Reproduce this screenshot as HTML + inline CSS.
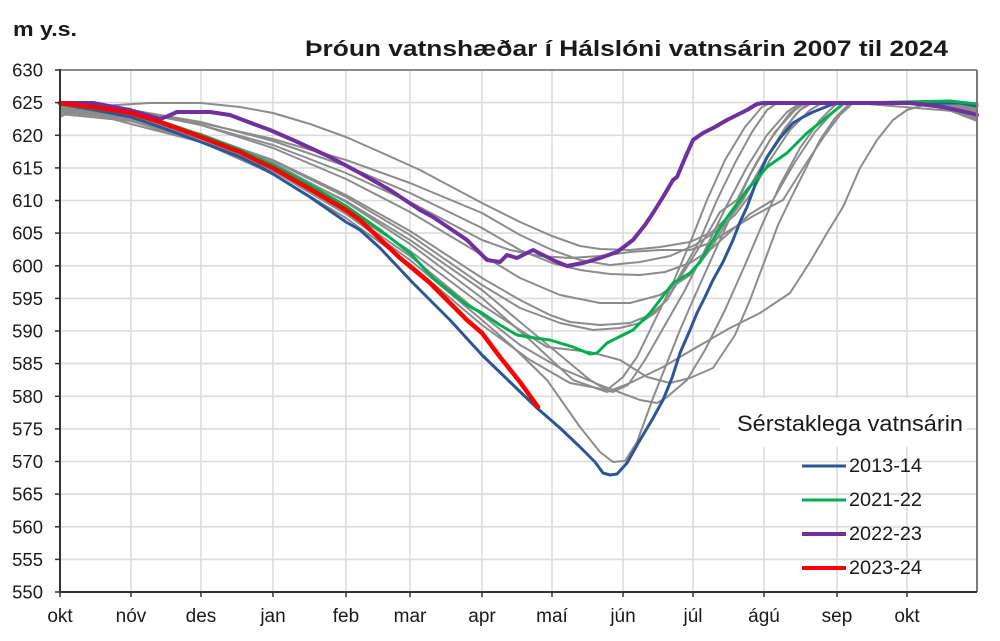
<!DOCTYPE html>
<html><head><meta charset="utf-8"><style>
html,body{margin:0;padding:0;background:#fff;}
svg{display:block;}
text{font-family:"Liberation Sans",Arial,sans-serif;fill:#1a1a1a;}
</style></head><body>
<svg width="1000" height="641" viewBox="0 0 1000 641" xmlns="http://www.w3.org/2000/svg">
<rect x="0" y="0" width="1000" height="641" fill="#fff"/>
<text x="13" y="36" font-size="20" font-weight="bold" textLength="64" lengthAdjust="spacingAndGlyphs">m y.s.</text>
<text x="305" y="56" font-size="22" font-weight="bold" textLength="643" lengthAdjust="spacingAndGlyphs">Þróun vatnshæðar í Hálslóni vatnsárin 2007 til 2024</text>
<g stroke="#dcdcdc" stroke-width="1.6" fill="none">
<line x1="60" y1="559.4" x2="977" y2="559.4"/><line x1="60" y1="526.8" x2="977" y2="526.8"/><line x1="60" y1="494.1" x2="977" y2="494.1"/><line x1="60" y1="461.5" x2="977" y2="461.5"/><line x1="60" y1="428.9" x2="977" y2="428.9"/><line x1="60" y1="396.3" x2="977" y2="396.3"/><line x1="60" y1="363.6" x2="977" y2="363.6"/><line x1="60" y1="331" x2="977" y2="331"/><line x1="60" y1="298.4" x2="977" y2="298.4"/><line x1="60" y1="265.8" x2="977" y2="265.8"/><line x1="60" y1="233.1" x2="977" y2="233.1"/><line x1="60" y1="200.5" x2="977" y2="200.5"/><line x1="60" y1="167.9" x2="977" y2="167.9"/><line x1="60" y1="135.3" x2="977" y2="135.3"/><line x1="60" y1="102.6" x2="977" y2="102.6"/>
<line x1="131" y1="70" x2="131" y2="592"/><line x1="201" y1="70" x2="201" y2="592"/><line x1="273" y1="70" x2="273" y2="592"/><line x1="346" y1="70" x2="346" y2="592"/><line x1="410" y1="70" x2="410" y2="592"/><line x1="482" y1="70" x2="482" y2="592"/><line x1="552" y1="70" x2="552" y2="592"/><line x1="623" y1="70" x2="623" y2="592"/><line x1="693" y1="70" x2="693" y2="592"/><line x1="764" y1="70" x2="764" y2="592"/><line x1="837" y1="70" x2="837" y2="592"/><line x1="907" y1="70" x2="907" y2="592"/>
</g>
<rect x="720" y="398" width="247" height="49" fill="#fff"/>
<g fill="none" stroke="#8c8c8c" stroke-width="2" stroke-linejoin="round" stroke-linecap="round">
<polyline points="60,110 100,106 150,103 201,103 240,107 273,113 310,124 346,137 380,152 420,170 450,186 482,203 520,222 552,236 580,246 600,249 630,250 660,247 690,242 712,232 730,215 745,195 765,160 785,128 800,110 812,103 900,103 940,107 977,112"/>
<polyline points="60,108 131,112 201,123 273,139 346,160 410,183 482,213 520,235 552,250 580,260 610,265 640,262 670,256 695,245 715,232 735,215 750,195 770,160 790,130 810,110 822,103 935,103 977,110"/>
<polyline points="60,105 131,110 201,122 273,141 346,166 410,193 482,228 520,250 552,263 580,270 610,274 640,275 665,272 690,263 710,250 730,232 750,214 773,200 795,162 815,132 835,110 845,103 920,103 977,117"/>
<polyline points="60,106 131,111 201,125 273,145 346,173 410,202 482,240 510,250 540,256 570,258 600,256 630,252 660,250 690,250 710,243 730,230 755,215 783,200 805,165 825,135 840,115 853,103 940,103 977,114"/>
<polyline points="60,104 131,110 201,125 273,148 346,179 410,212 482,255 520,278 560,295 600,303 630,303 660,295 690,275 710,250 727,222 743,200 760,170 778,140 795,115 808,103 930,103 977,112"/>
<polyline points="60,112 131,119 201,135 273,160 346,195 410,231 482,278 520,300 550,315 570,322 600,325 630,323 650,315 667,300 680,275 700,240 717,200 735,163 752,132 767,110 777,103 930,103 977,118"/>
<polyline points="60,110 131,117 201,134 273,161 346,197 410,235 482,285 520,308 560,323 593,330 620,328 640,323 655,313 668,298 685,270 705,238 720,212 737,200 755,165 775,132 795,110 805,103 930,103 977,120"/>
<polyline points="60,114 131,121 201,138 273,165 346,201 410,240 482,290 520,322 560,355 590,380 607,390 623,377 637,357 655,320 672,285 690,243 707,200 725,160 745,127 762,107 770,103 930,103 977,116"/>
<polyline points="60,108 131,116 201,134 273,163 346,202 410,244 482,298 530,340 573,380 607,392 630,383 663,367 697,347 730,328 760,313 790,293 810,262 827,233 843,207 860,168 877,140 893,120 907,110 927,104 950,104 977,108"/>
<polyline points="60,116 75,109 131,124 201,142 273,171 346,210 410,251 482,305 520,330 547,347 590,352 620,360 647,377 670,383 690,378 713,368 735,335 750,300 765,260 778,225 790,200 805,170 820,140 835,118 848,105 855,103 977,113"/>
<polyline points="60,110 131,118 201,138 273,170 346,212 410,256 482,315 520,345 560,368 600,385 640,400 657,403 667,397 687,380 705,350 725,310 745,265 762,225 780,185 800,148 820,120 835,105 842,103 930,103 977,121"/>
<polyline points="60,117 75,110 131,121 201,142 273,174 346,218 410,264 482,325 530,360 570,383 597,388 613,392 628,385 645,360 665,325 685,290 705,250 727,205 747,167 767,135 787,112 800,103 930,103 977,115"/>
<polyline points="60,110 131,118 201,139 273,171 346,214 410,260 482,320 513,347 547,380 580,427 600,452 613,462 625,461 637,442 653,398 667,363 680,330 693,300 710,262 730,218 750,175 770,140 790,113 802,103 930,103 977,119"/>
</g>
<g fill="none" stroke-linejoin="round" stroke-linecap="round">
<polyline stroke="#2b5797" stroke-width="3" points="60,104 95,110 131,117 160,127 201,142 240,157 260,167 273,174 310,197 346,222 360,230 380,248 413,283 450,320 482,355 510,382 537,408 560,428 580,447 595,462 603,473 610,475 617,474 627,463 640,440 652,420 663,400 672,378 680,353 690,330 697,313 705,297 713,280 723,262 733,240 740,222 747,207 757,180 767,157 780,138 793,123 803,117 813,112 823,108 833,104 840,103 960,103 977,106"/>
<polyline stroke="#00b050" stroke-width="3" points="60,104 131,113 160,121 201,135 240,150 273,165 310,185 346,206 380,230 410,253 433,278 467,305 482,313 500,325 517,335 535,338 550,340 573,347 590,354 597,353 607,343 633,330 650,313 673,283 690,273 700,262 723,223 747,190 767,167 787,153 807,133 827,117 843,104 850,103 950,101 977,104"/>
<polyline stroke="#7030a0" stroke-width="4" points="60,103 93,103 130,110 160,119 168,116 177,112 210,112 230,115 243,120 270,130 293,140 330,157 360,173 390,190 420,210 433,217 467,240 487,260 500,262 507,255 517,258 527,253 533,250 543,255 555,261 567,266 583,263 600,258 617,252 633,240 645,225 653,213 663,197 673,180 677,177 685,158 693,140 703,133 715,127 727,120 747,110 757,104 763,103 910,103 943,107 970,113 977,115"/>
<polyline stroke="#ff0000" stroke-width="4.5" points="60,103 100,108 131,113 160,122 201,137 240,152 260,162 273,168 310,189 346,210 360,220 400,258 430,283 467,320 482,333 500,357 520,382 538,407"/>
</g>
<line x1="60" y1="70" x2="977" y2="70" stroke="#8a8a8a" stroke-width="2"/>
<line x1="977" y1="70" x2="977" y2="592" stroke="#7a7a7a" stroke-width="2"/>
<line x1="60" y1="69" x2="60" y2="593" stroke="#333" stroke-width="2"/>
<line x1="59" y1="592" x2="977" y2="592" stroke="#333" stroke-width="2"/>
<g stroke="#333" stroke-width="1.5">
<line x1="55" y1="592" x2="60" y2="592"/><line x1="55" y1="559.4" x2="60" y2="559.4"/><line x1="55" y1="526.8" x2="60" y2="526.8"/><line x1="55" y1="494.1" x2="60" y2="494.1"/><line x1="55" y1="461.5" x2="60" y2="461.5"/><line x1="55" y1="428.9" x2="60" y2="428.9"/><line x1="55" y1="396.3" x2="60" y2="396.3"/><line x1="55" y1="363.6" x2="60" y2="363.6"/><line x1="55" y1="331" x2="60" y2="331"/><line x1="55" y1="298.4" x2="60" y2="298.4"/><line x1="55" y1="265.8" x2="60" y2="265.8"/><line x1="55" y1="233.1" x2="60" y2="233.1"/><line x1="55" y1="200.5" x2="60" y2="200.5"/><line x1="55" y1="167.9" x2="60" y2="167.9"/><line x1="55" y1="135.3" x2="60" y2="135.3"/><line x1="55" y1="102.6" x2="60" y2="102.6"/><line x1="55" y1="70" x2="60" y2="70"/>
<line x1="60" y1="592" x2="60" y2="597"/><line x1="131" y1="592" x2="131" y2="597"/><line x1="201" y1="592" x2="201" y2="597"/><line x1="273" y1="592" x2="273" y2="597"/><line x1="346" y1="592" x2="346" y2="597"/><line x1="410" y1="592" x2="410" y2="597"/><line x1="482" y1="592" x2="482" y2="597"/><line x1="552" y1="592" x2="552" y2="597"/><line x1="623" y1="592" x2="623" y2="597"/><line x1="693" y1="592" x2="693" y2="597"/><line x1="764" y1="592" x2="764" y2="597"/><line x1="837" y1="592" x2="837" y2="597"/><line x1="907" y1="592" x2="907" y2="597"/>
</g>
<g font-size="18.5" text-anchor="end">
<text x="43" y="598.5">550</text><text x="43" y="565.9">555</text><text x="43" y="533.3">560</text><text x="43" y="500.6">565</text><text x="43" y="468">570</text><text x="43" y="435.4">575</text><text x="43" y="402.8">580</text><text x="43" y="370.1">585</text><text x="43" y="337.5">590</text><text x="43" y="304.9">595</text><text x="43" y="272.3">600</text><text x="43" y="239.6">605</text><text x="43" y="207">610</text><text x="43" y="174.4">615</text><text x="43" y="141.8">620</text><text x="43" y="109.1">625</text><text x="43" y="76.5">630</text>
</g>
<g font-size="19" text-anchor="middle">
<text x="60" y="622">okt</text><text x="131" y="622">nóv</text><text x="201" y="622">des</text><text x="273" y="622">jan</text><text x="346" y="622">feb</text><text x="410" y="622">mar</text><text x="482" y="622">apr</text><text x="552" y="622">maí</text><text x="623" y="622">jún</text><text x="693" y="622">júl</text><text x="764" y="622">ágú</text><text x="837" y="622">sep</text><text x="907" y="622">okt</text>
</g>
<text x="737" y="431" font-size="22" textLength="226" lengthAdjust="spacingAndGlyphs">Sérstaklega vatnsárin</text>
<g stroke-linecap="butt">
<line x1="802" y1="466" x2="846" y2="466" stroke="#2b5797" stroke-width="3"/>
<line x1="802" y1="500" x2="846" y2="500" stroke="#00b050" stroke-width="3"/>
<line x1="802" y1="534" x2="846" y2="534" stroke="#7030a0" stroke-width="4"/>
<line x1="802" y1="568" x2="846" y2="568" stroke="#ff0000" stroke-width="4"/>
</g>
<g font-size="19.5">
<text x="849" y="472" textLength="73" lengthAdjust="spacingAndGlyphs">2013-14</text>
<text x="849" y="506" textLength="73" lengthAdjust="spacingAndGlyphs">2021-22</text>
<text x="849" y="540" textLength="73" lengthAdjust="spacingAndGlyphs">2022-23</text>
<text x="849" y="574" textLength="73" lengthAdjust="spacingAndGlyphs">2023-24</text>
</g>
</svg>
</body></html>
